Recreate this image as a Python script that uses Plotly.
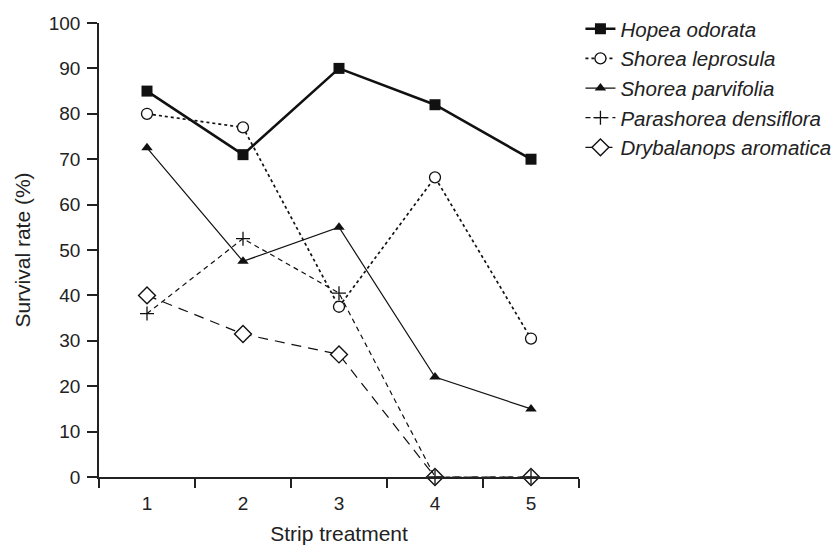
import plotly.graph_objects as go

treatments = ["1", "2", "3", "4", "5"]
species = ["Hopea odorata", "Shorea leprosula", "Shorea parvifolia",
           "Parashorea densiflora", "Drybalanops aromatica"]
hopea = [85, 71, 90, 82, 70]
leprosula = [80, 77, 37.5, 66, 30.5]
parvifolia = [72.5, 47.5, 55, 22, 15]
parashorea = [36, 52.5, 40.5, 0, 0]
drybalanops = [40, 31.5, 27, 0, 0]
y_ticks = [0, 10, 20, 30, 40, 50, 60, 70, 80, 90, 100]

series = [hopea, leprosula, parvifolia, parashorea, drybalanops]
ink = "#111"
styles = [
    dict(line=dict(color=ink, width=2.6, dash="solid"),
         marker=dict(symbol="square", size=11, color=ink)),
    dict(line=dict(color=ink, width=1.7, dash="dot"),
         marker=dict(symbol="circle", size=11, color="white", line=dict(width=1.3, color=ink))),
    dict(line=dict(color=ink, width=1.2, dash="solid"),
         marker=dict(symbol="triangle-up", size=10, color=ink)),
    dict(line=dict(color=ink, width=1.2, dash="5px,4px"),
         marker=dict(symbol="cross-thin-open", size=10, color=ink, line=dict(width=1.3, color=ink))),
    dict(line=dict(color=ink, width=1.2, dash="10px,7px"),
         marker=dict(symbol="diamond", size=13, color="white", line=dict(width=1.4, color=ink))),
]
# drawing order: diamonds beneath the crosses; legend keeps the species order
draw_order = [0, 1, 2, 4, 3]

fig = go.Figure()
for i in draw_order:
    fig.add_trace(go.Scatter(x=treatments, y=series[i], mode="lines+markers",
                             name="<i>" + species[i] + "</i>", legendrank=i + 1,
                             cliponaxis=False, **styles[i]))

font_family = "Liberation Sans, Arial, Helvetica, sans-serif"
fig.update_layout(
    width=840, height=547,
    margin=dict(l=91, r=269, t=15, b=78, autoexpand=False),
    paper_bgcolor="white", plot_bgcolor="white",
    font=dict(family=font_family, size=19, color="#222"),
    showlegend=True,
    legend=dict(x=1.003, y=1.031, xanchor="left", yanchor="top",
                font=dict(size=20.5, color="#222"), itemwidth=30,
                tracegroupgap=0, bgcolor="rgba(0,0,0,0)", traceorder="normal"),
    xaxis=dict(type="category", range=[-0.5, 4.5], tickson="boundaries",
               ticks="outside", ticklen=9, tickwidth=1.5, tickcolor="#222",
               ticklabelstandoff=8,
               showline=True, linecolor="#222", linewidth=1.5,
               showgrid=False, zeroline=False, tickfont=dict(size=19),
               title=dict(text="Strip treatment", font=dict(size=21), standoff=14)),
    yaxis=dict(range=[0, 100], tickvals=y_ticks, ticks="outside", ticklen=10,
               tickwidth=1.5, tickcolor="#222", ticklabelstandoff=3,
               showline=True, linecolor="#222", linewidth=1.5,
               showgrid=False, zeroline=False, tickfont=dict(size=19),
               title=dict(text="Survival rate (%)", font=dict(size=21), standoff=12)),
)

fig.write_html("out.html")
